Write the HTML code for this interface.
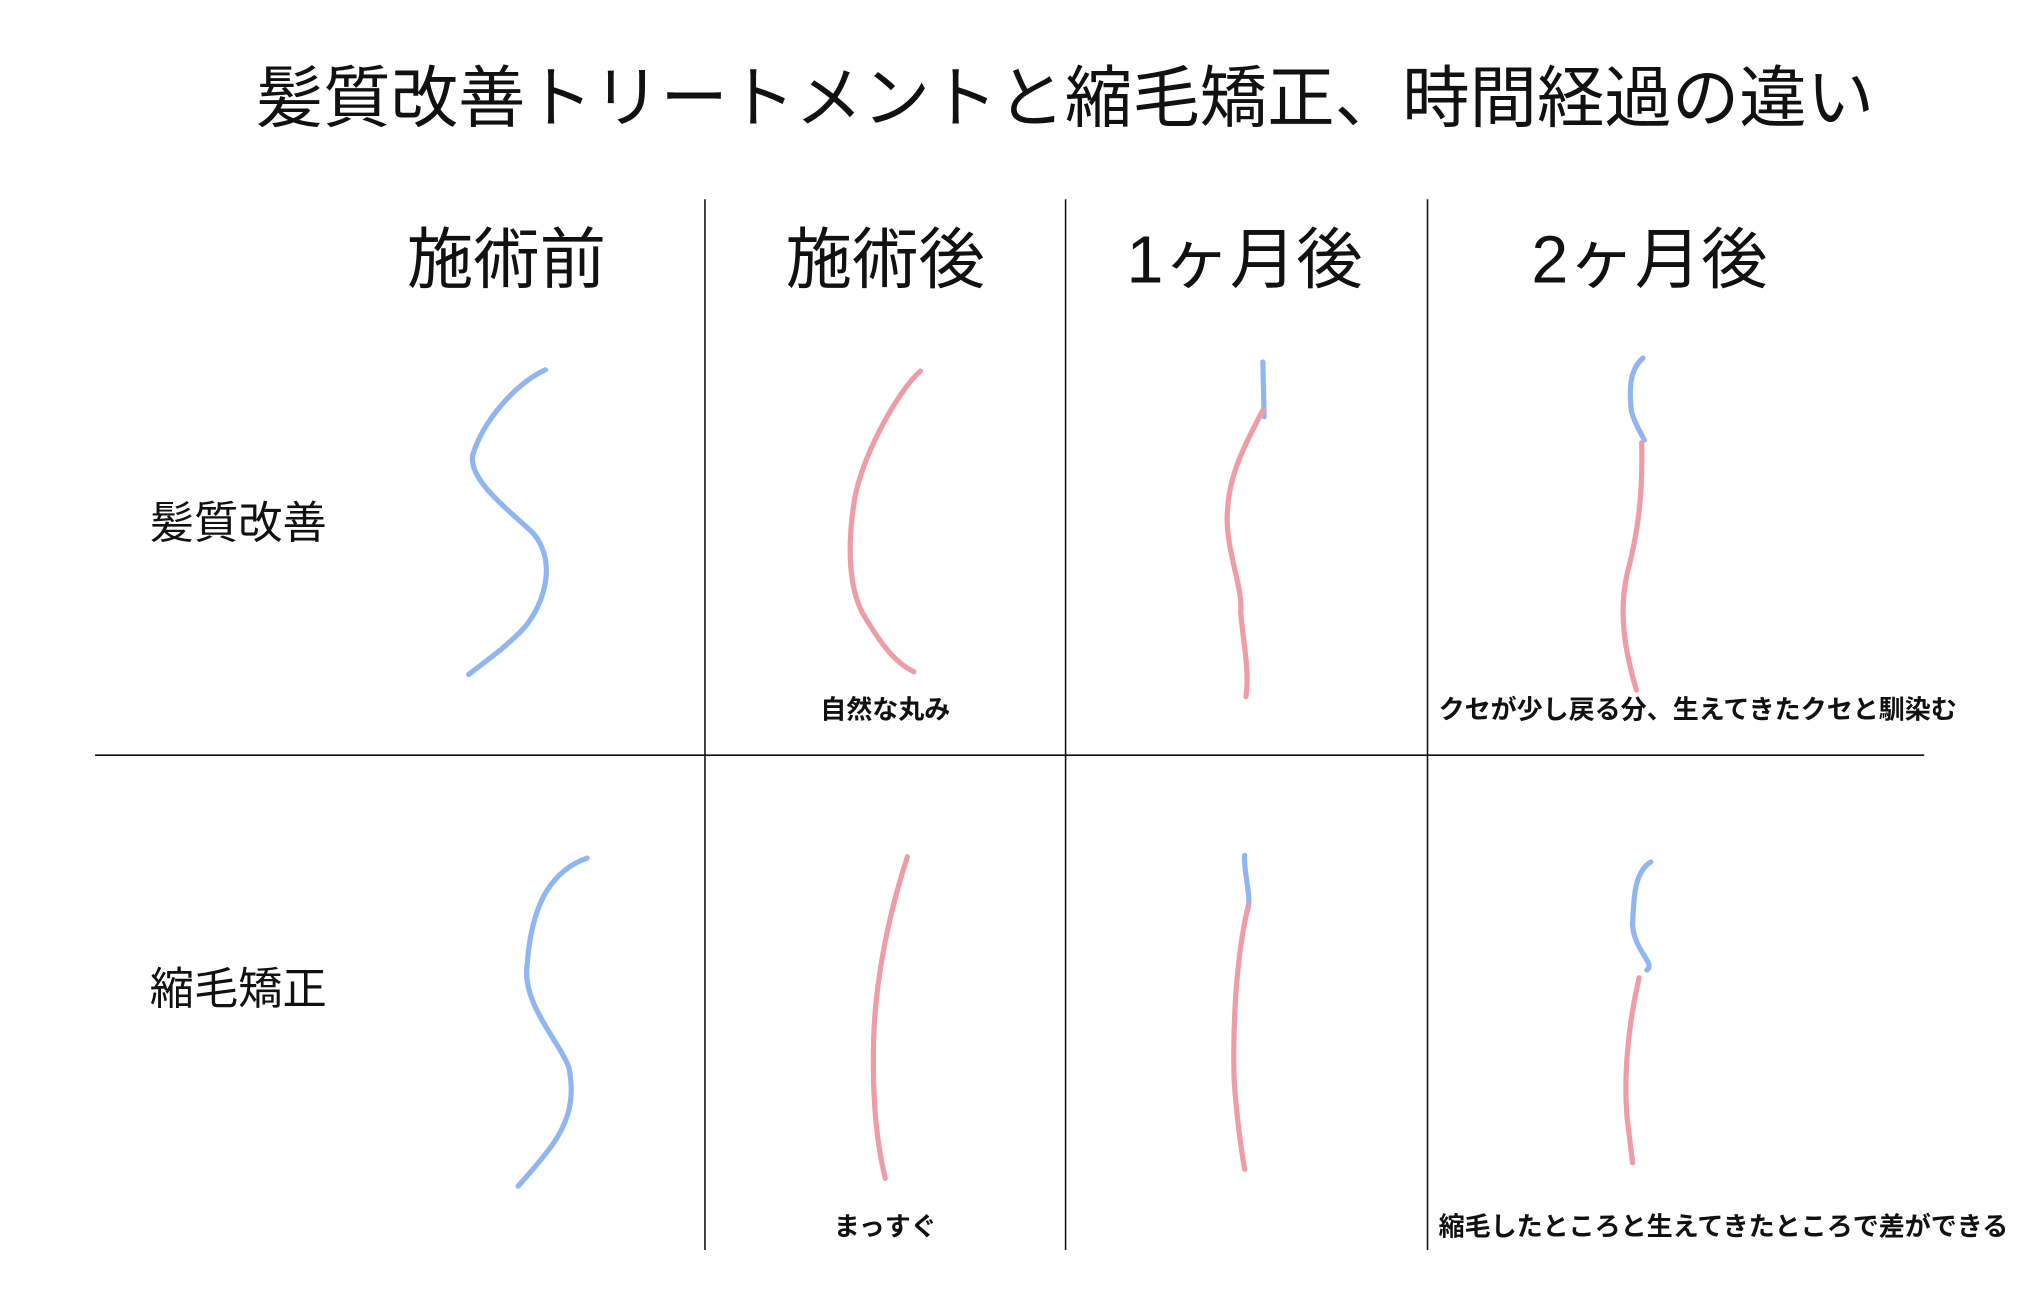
<!DOCTYPE html>
<html><head><meta charset="utf-8"><style>
html,body{margin:0;padding:0;background:#fff;width:2042px;height:1304px;overflow:hidden}
svg{display:block}
text{font-family:"Liberation Sans","Noto Sans CJK JP",sans-serif;fill:#111}
</style></head><body>
<svg width="2042" height="1304" viewBox="0 0 1568.5 1001.5" preserveAspectRatio="none">
<text x="818" y="76" font-size="51.8" text-anchor="middle" dominant-baseline="central">髪質改善トリートメントと縮毛矯正、時間経過の違い</text>
<g stroke="#111" stroke-width="1.2">
<line x1="541.5" y1="153" x2="541.5" y2="960"/>
<line x1="818.5" y1="153" x2="818.5" y2="960"/>
<line x1="1096.5" y1="153" x2="1096.5" y2="960"/>
<line x1="73" y1="580" x2="1478" y2="580"/>
</g>
<g font-size="51" text-anchor="middle" dominant-baseline="central">
<text x="389" y="200">施術前</text>
<text x="680" y="200">施術後</text>
<text x="956" y="200">1ヶ月後</text>
<text x="1267" y="200">2ヶ月後</text>
</g>
<g font-size="34" dominant-baseline="central">
<text x="115" y="402">髪質改善</text>
<text x="115" y="760">縮毛矯正</text>
</g>
<g font-size="20" font-weight="bold" dominant-baseline="central">
<text x="680" y="545" text-anchor="middle">自然な丸み</text>
<text x="1105" y="545">クセが少し戻る分、生えてきたクセと馴染む</text>
<text x="680" y="942" text-anchor="middle">まっすぐ</text>
<text x="1105" y="942">縮毛したところと生えてきたところで差ができる</text>
</g>
<g fill="none" stroke-width="4" stroke-linecap="round">
<g stroke="#8fb6f2">
<path d="M419,284 C395,295 370,325 363,350 C360,370 395,395 410,410 C430,435 415,470 400,485 C385,500 370,510 360,518"/>
<path d="M970,278 L971,320"/>
<path d="M1262,275 C1250,285 1252,305 1253,315 C1255,325 1262,335 1263,338"/>
<path d="M451,659 C420,670 408,700 405,740 C400,770 430,800 437,820 C445,860 425,880 398,911"/>
<path d="M956,657 C955,670 962,690 958,700"/>
<path d="M1268,662 C1255,670 1255,690 1254,710 C1255,730 1272,740 1265,745"/>
</g>
<g stroke="#ee9ca5">
<path d="M707,285 C690,300 665,345 657,380 C650,420 652,455 665,475 C680,500 690,510 702,516"/>
<path d="M970,315 C960,335 945,360 943,390 C940,420 955,450 953,470 C955,495 960,515 957,535"/>
<path d="M1261,340 C1262,380 1258,410 1250,440 C1243,470 1248,500 1257,530"/>
<path d="M697,658 C680,710 672,760 671,800 C670,850 674,880 680,905"/>
<path d="M959,695 C948,740 947,800 948,830 C950,860 953,880 956,898"/>
<path d="M1259,751 C1250,790 1247,830 1250,860 L1254,893"/>
</g>
</g>
</svg>
</body></html>
